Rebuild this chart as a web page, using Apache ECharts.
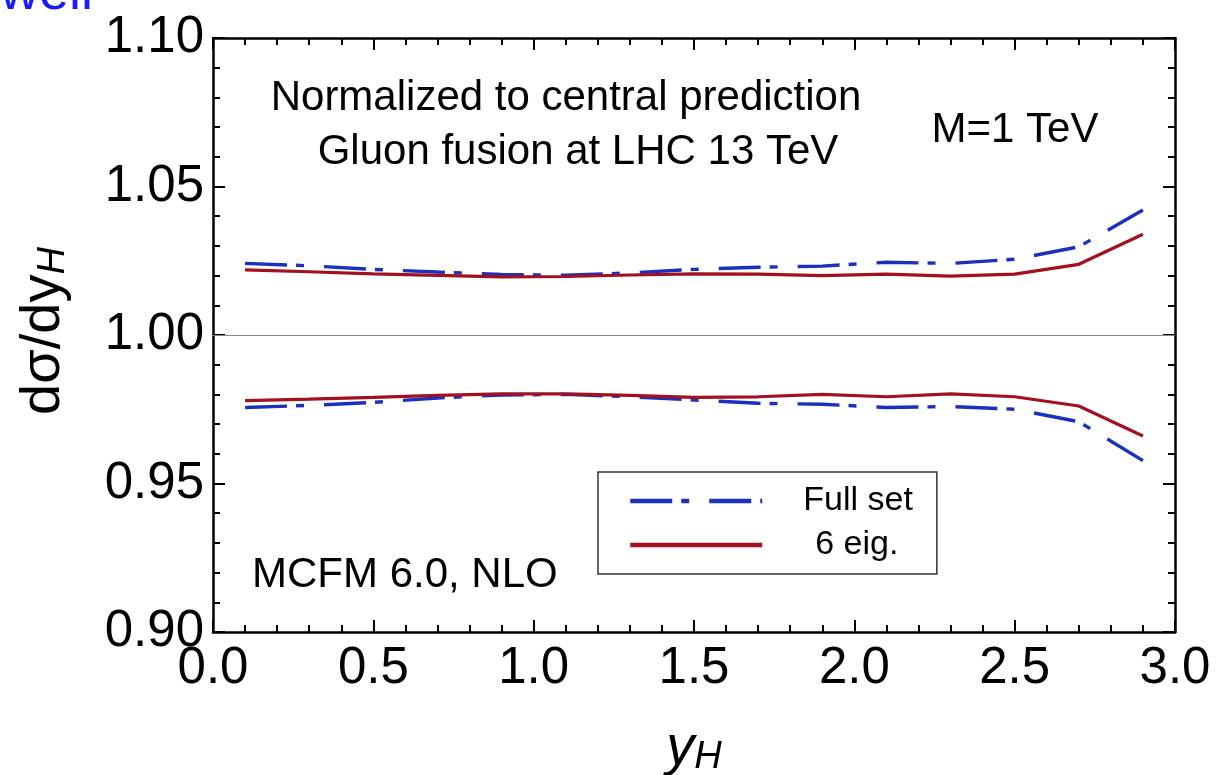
<!DOCTYPE html>
<html>
<head>
<meta charset="utf-8">
<script src="https://cdn.jsdelivr.net/npm/echarts@6/dist/echarts.min.js"></script>
<style>
html,body{margin:0;padding:0;background:#fff;}
#chart{width:1217px;height:775px;}
</style>
</head>
<body>
<div id="chart"></div>
<script>
// ---- data ----
const yH = [0.1, 0.3, 0.5, 0.7, 0.9, 1.1, 1.3, 1.5, 1.7, 1.9, 2.1, 2.3, 2.5, 2.7, 2.9];
const fullSetUpper = [1.0241, 1.0233, 1.0221, 1.0212, 1.0204, 1.0201, 1.0209, 1.0221, 1.0228, 1.0232, 1.0245, 1.0241, 1.0255, 1.0297, 1.0421];
const fullSetLower = [0.9756, 0.9763, 0.9773, 0.9788, 0.9798, 0.9800, 0.9792, 0.9781, 0.9770, 0.9767, 0.9756, 0.9759, 0.9750, 0.9708, 0.9577];
const eig6Upper = [1.0219, 1.0213, 1.0206, 1.0201, 1.0196, 1.0197, 1.0202, 1.0206, 1.0205, 1.0200, 1.0205, 1.0198, 1.0205, 1.0238, 1.0339];
const eig6Lower = [0.9779, 0.9784, 0.9790, 0.9797, 0.9802, 0.9802, 0.9797, 0.9790, 0.9792, 0.9800, 0.9792, 0.9802, 0.9792, 0.9761, 0.9660];
const referenceLevel = 1.0;
const xTicks = {min: 0, max: 3, interval: 0.5};
const yTicks = {min: 0.9, max: 1.1, interval: 0.05};
const seriesNames = ['Full set', '6 eig.'];

const pair = (xs, ys) => xs.map((x, i) => [x, ys[i]]);
const FONT = '"Liberation Sans", Arial, Helvetica, sans-serif';
const BLUE = '#1a30bf';
const RED = '#a3101f';

const axisCommon = {
  axisLine: {show: true, onZero: false, lineStyle: {color: '#000', width: 2.5}},
  axisTick: {show: true, inside: true, length: 12, lineStyle: {color: '#000', width: 2}},
  minorTick: {show: true, splitNumber: 5, length: 7, lineStyle: {color: '#000', width: 2}},
  splitLine: {show: false}
};

const chart = echarts.init(document.getElementById('chart'), null, {renderer: 'canvas'});
const blueStyle = {color: BLUE, width: 3.4, type: [42, 9, 8, 20], cap: 'butt'};
const redStyle = {color: RED, width: 3.2, type: 'solid'};

chart.setOption({
  animation: false,
  backgroundColor: '#fff',
  grid: {left: 213, right: 42, top: 38, bottom: 143, containLabel: false},
  xAxis: [
    Object.assign({type: 'value', position: 'bottom', min: xTicks.min, max: xTicks.max, interval: xTicks.interval,
      axisLabel: {show: true, margin: 11, fontSize: 51, fontFamily: FONT, color: '#000',
        formatter: v => v.toFixed(1)}}, axisCommon),
    Object.assign({type: 'value', position: 'top', min: xTicks.min, max: xTicks.max, interval: xTicks.interval,
      axisLabel: {show: false}}, axisCommon)
  ],
  yAxis: [
    Object.assign({type: 'value', position: 'left', min: yTicks.min, max: yTicks.max, interval: yTicks.interval,
      axisLabel: {show: true, margin: 9, fontSize: 51, fontFamily: FONT, color: '#000',
        formatter: v => v.toFixed(2)}}, axisCommon),
    Object.assign({type: 'value', position: 'right', min: yTicks.min, max: yTicks.max, interval: yTicks.interval,
      axisLabel: {show: false}}, axisCommon)
  ],
  legend: {
    data: seriesNames,
    orient: 'vertical',
    left: 598, top: 472,
    itemWidth: 132, itemHeight: 16, itemGap: 4,
    padding: [9, 24, 9, 30],
    borderColor: '#333', borderWidth: 1.5,
    backgroundColor: '#fff',
    itemStyle: {opacity: 0},
    lineStyle: {width: 4.5},
    formatter: name => name === seriesNames[0] ? '{a|' + name + '}' : '{b|' + name + '}',
    textStyle: {
      fontSize: 34, fontFamily: FONT, color: '#000', lineHeight: 40,
      rich: {a: {fontSize: 34, fontFamily: FONT, padding: [0, 0, 0, 36]},
             b: {fontSize: 34, fontFamily: FONT, padding: [0, 0, 0, 48]}}
    }
  },
  series: [
    {name: seriesNames[0], type: 'line', data: pair(yH, fullSetUpper), symbol: 'none', lineStyle: blueStyle, itemStyle: {color: BLUE}, z: 3,
      markLine: {silent: true, symbol: 'none', label: {show: false}, animation: false,
        lineStyle: {color: '#888', width: 1.2, type: 'solid'}, data: [{yAxis: referenceLevel}]}},
    {name: seriesNames[0], type: 'line', data: pair(yH, fullSetLower), symbol: 'none', lineStyle: blueStyle, itemStyle: {color: BLUE}, z: 3},
    {name: seriesNames[1], type: 'line', data: pair(yH, eig6Upper), symbol: 'none', lineStyle: redStyle, itemStyle: {color: RED}, z: 4},
    {name: seriesNames[1], type: 'line', data: pair(yH, eig6Lower), symbol: 'none', lineStyle: redStyle, itemStyle: {color: RED}, z: 4}
  ],
  graphic: [
    {type: 'text', x: 0, y: -33, style: {text: 'well', fontSize: 54, fontFamily: FONT, fill: '#1a1aff'}},
    {type: 'text', x: 566, y: 98, style: {text: 'Normalized to central prediction', fontSize: 42, fontFamily: FONT, fill: '#000', align: 'center', verticalAlign: 'middle'}},
    {type: 'text', x: 578, y: 152, style: {text: 'Gluon fusion at LHC 13 TeV', fontSize: 42, fontFamily: FONT, fill: '#000', align: 'center', verticalAlign: 'middle'}},
    {type: 'text', x: 1015, y: 130, style: {text: 'M=1 TeV', fontSize: 42, fontFamily: FONT, fill: '#000', align: 'center', verticalAlign: 'middle'}},
    {type: 'text', x: 252, y: 575, style: {text: 'MCFM 6.0, NLO', fontSize: 42, fontFamily: FONT, fill: '#000', align: 'left', verticalAlign: 'middle'}},
    {type: 'text', x: 694, y: 748, style: {
      text: '{a|y}{b|H}', align: 'center', verticalAlign: 'middle', fill: '#000',
      rich: {a: {fontSize: 56, fontFamily: FONT, fontStyle: 'italic', lineHeight: 56, verticalAlign: 'top'},
             b: {fontSize: 38, fontFamily: FONT, fontStyle: 'italic', lineHeight: 38, verticalAlign: 'bottom', padding: [30, 0, 0, 0]}}}},
    {type: 'text', x: 44, y: 331, rotation: Math.PI / 2, style: {
      text: '{a|dσ/dy}{b|H}', align: 'center', verticalAlign: 'middle', fill: '#000',
      rich: {a: {fontSize: 56, fontFamily: FONT, lineHeight: 56, verticalAlign: 'top'},
             b: {fontSize: 38, fontFamily: FONT, fontStyle: 'italic', lineHeight: 38, verticalAlign: 'bottom', padding: [30, 0, 0, 0]}}}}
  ]
});
</script>
</body>
</html>
